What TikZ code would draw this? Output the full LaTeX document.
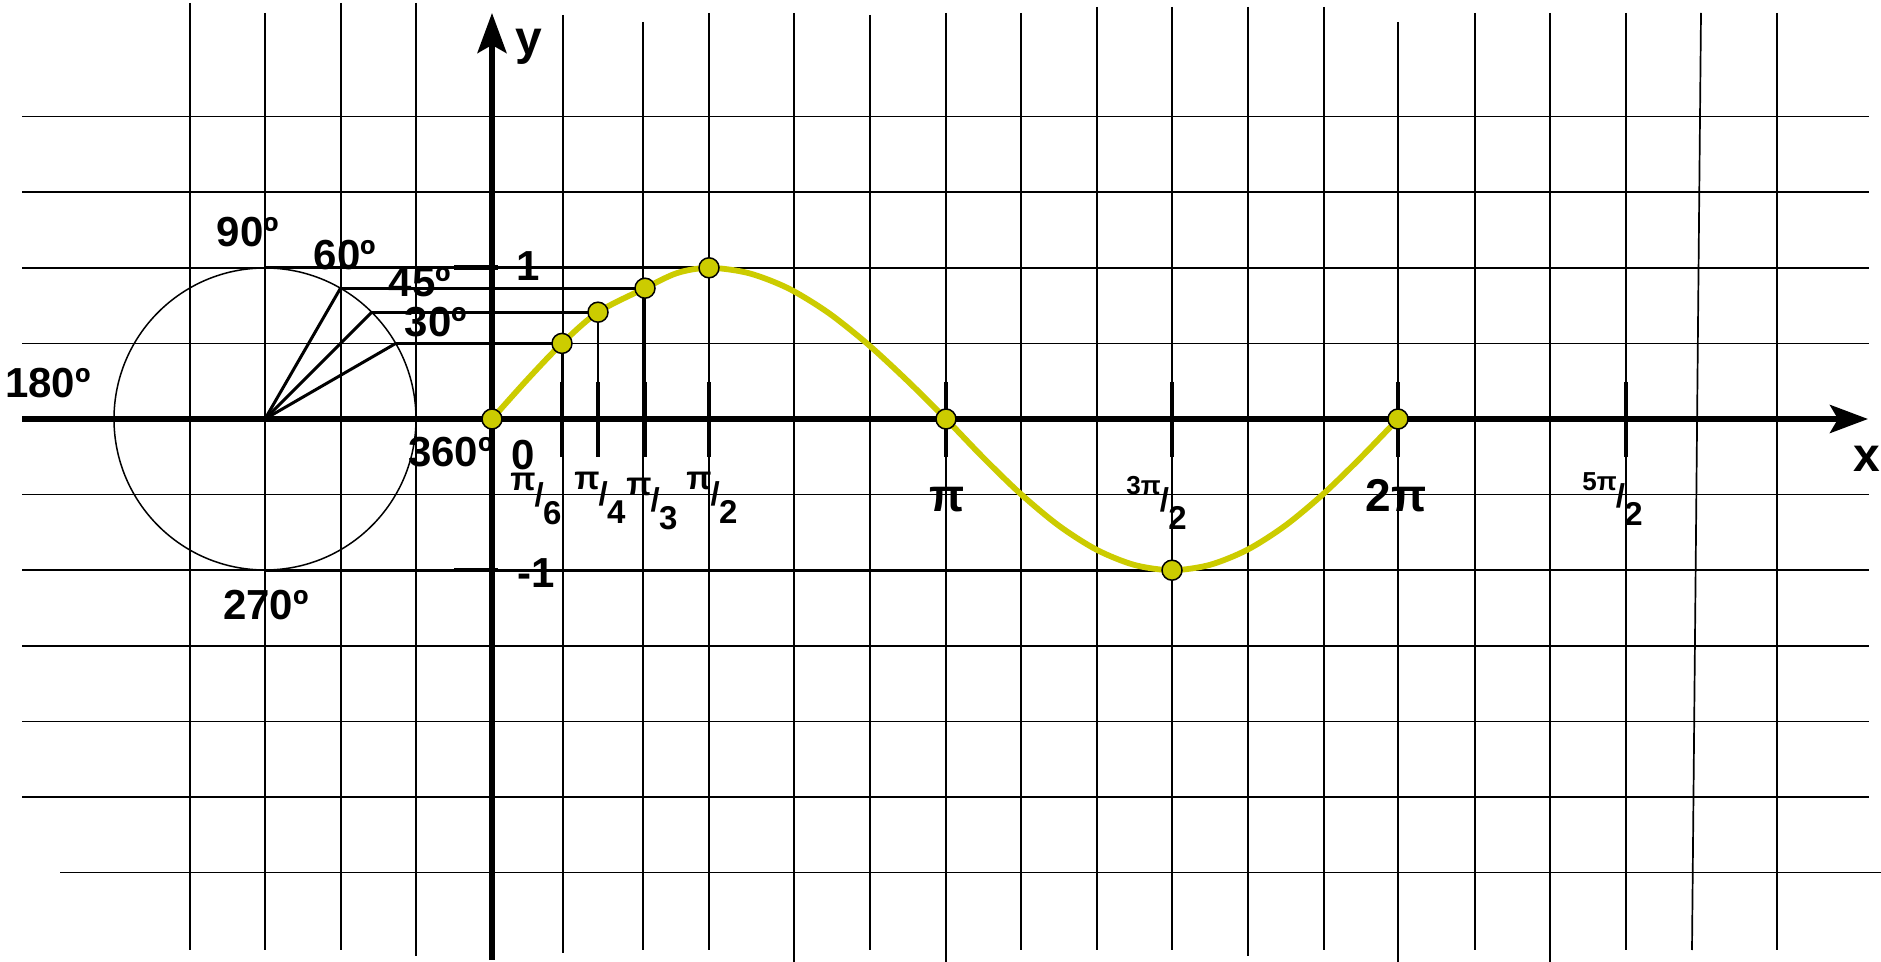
\documentclass[tikz,border=0pt]{standalone}
\usepackage{fontspec}
\setmainfont{Liberation Sans}
\usetikzlibrary{arrows.meta}
\definecolor{curvey}{RGB}{204,204,0}
\newcommand{\pfrac}[2]{\raisebox{8pt}{#1}\kern-0.03em/\kern-0.02em\raisebox{-9pt}{#2}}
\newcommand{\pfracs}[2]{\raisebox{8.5pt}{\fontsize{13}{13}\selectfont #1}\kern-0.03em/\kern-0.02em\raisebox{-9pt}{#2}}
\begin{document}
\begin{tikzpicture}[x=0.5pt,y=-0.5pt,
  grid/.style={line width=0.85pt,black},
  proj/.style={line width=1.4pt,black},
  radl/.style={line width=1.5pt,black},
  axis/.style={line width=2.75pt,black},
  tickm/.style={line width=2.3pt,black},
  curve/.style={line width=2.9pt,curvey},
  pt/.style={circle,fill=curvey,draw=black,line width=0.75pt,minimum size=10pt,inner sep=0pt},
  lbl/.style={font=\fontsize{21}{21}\selectfont\bfseries,inner sep=0pt,anchor=base},
  big/.style={font=\fontsize{23}{23}\selectfont\bfseries,inner sep=0pt,anchor=base},
  axl/.style={font=\fontsize{24}{24}\selectfont\bfseries,inner sep=0pt,anchor=base},
  frc/.style={font=\fontsize{16.5}{16.5}\selectfont\bfseries,inner sep=0pt,anchor=base west}]
\useasboundingbox (0,0) rectangle (1881,962);
\fill[white] (0,0) rectangle (1881,962);
% horizontal grid
\foreach \y in {116.6,192.2,267.8,343.4,494.6,570.2,645.8,721.4,797}
  \draw[grid] (22,\y) -- (1869,\y);
\draw[grid] (60,872.6) -- (1881,872.6);
% vertical grid
\foreach \x/\t/\b in {190/3/950,265/13/950,341/3/950,416/3/956,563/15/953,643/22/950,709/13/950,794/13/962,870/15/950,946/13/962,1021/13/950,1097/7/950,1172/7/950,1248/7/956,1324/7/950,1398/22/962,1475/13/950,1550/13/962,1626/13/950,1777/13/950}
  \draw[grid] (\x,\t) -- (\x,\b);
\draw[grid] (1701,13) -- (1692,950);
% unit circle
\node[circle,draw,line width=0.75pt,minimum size=151pt,inner sep=0pt] (uc) at (265,419) {};
\coordinate (o) at (265,419);
\coordinate (c90) at (265,267.8);
\coordinate (c60) at (340.5,288.2);
\coordinate (c45) at (371.8,312.2);
\coordinate (c30) at (395.8,343.4);
\coordinate (c270) at (265,570.2);
% curve points
\coordinate (p0) at (492,419);
\coordinate (p30) at (562,343.4);
\coordinate (p45) at (598,312.2);
\coordinate (p60) at (645,288.2);
\coordinate (p90) at (709,267.8);
\coordinate (p180) at (946,419);
\coordinate (p270) at (1172,570.2);
\coordinate (p360) at (1398,419);
% projection lines
\draw[line width=1.1pt] (c90) -- (c270);
\draw[proj] (c90) -- (p90);
\draw[proj] (c60) -- (p60);
\draw[proj] (c45) -- (p45);
\draw[proj] (c30) -- (p30);
\draw[proj] (c270) -- (p270);
\draw[proj] (p30) -- (p30 |- p0);
\draw[proj] (p45) -- (p45 |- p0);
\draw[proj] (p60) -- (p60 |- p0);
\draw[proj] (p90) -- (p90 |- p0);
\draw[radl] (o) -- (c30);
\draw[radl] (o) -- (c45);
\draw[radl] (o) -- (c60);
% axes
\coordinate (xs) at (22,419);
\coordinate (xe) at (1868,419);
\coordinate (ys) at (492,960);
\coordinate (ye) at (492,13);
\draw[axis,-{Stealth[length=19pt,width=14pt,inset=4pt]}] (xs) -- (xe);
\draw[axis,-{Stealth[length=20pt,width=14.5pt,inset=4pt]}] (ys) -- (ye);
% ticks
\draw[tickm] (454,267.8) -- (498,267.8);
\draw[tickm] (454,570.2) -- (498,570.2);
\foreach \x in {562,598,645,709,946,1172,1398,1626}
  \draw[tickm] (\x,382) -- (\x,457);
% sine curve
\draw[curve] plot[smooth,tension=0.5] coordinates {(492,419) (527,379.9) (562,343.4) (598,312.2) (645,288.2) (677,273.1) (709,267.8) (748.5,273.1) (788,288.2) (827.5,312.2) (867,343.5) (906.5,379.9) (946,419) (983.7,458.1) (1021.3,494.5) (1059,525.8) (1096.7,549.8) (1134.3,564.9) (1172,570.2) (1209.7,564.9) (1247.3,549.8) (1285,525.8) (1322.7,494.5) (1360.3,458.1) (1398,419)};
\foreach \p in {p0,p30,p45,p60,p90,p180,p270,p360}
  \node[pt] (n\p) at (\p) {};
% labels
\node[lbl] (l90) at (248,247) {90º};
\node[lbl] (l60) at (345,270) {60º};
\node[lbl] (l45) at (420,297) {45º};
\node[lbl] (l30) at (436,337) {30º};
\node[lbl] (l180) at (48,398) {180º};
\node[lbl] (l360) at (451,467) {360º};
\node[lbl] (l270) at (266,620) {270º};
\node[lbl] (l0) at (523,470) {0};
\node[lbl] (l1) at (528,281) {1};
\node[lbl] (lm1) at (536,588) {-1};
\node[big] (lpi) at (947,512) {π};
\node[big] (l2pi) at (1396,512) {2π};
\node[axl] (ly) at (529,55) {y};
\node[axl] (lx) at (1867,472) {x};
\node[frc] (f6) at (510,507) {\pfrac{π}{6}};
\node[frc] (f4) at (574,506) {\pfrac{π}{4}};
\node[frc] (f3) at (626,512) {\pfrac{π}{3}};
\node[frc] (f2) at (686,506) {\pfrac{π}{2}};
\node[frc] (f32) at (1126,512) {\pfracs{3π}{2}};
\node[frc] (f52) at (1582,508) {\pfracs{5π}{2}};
\end{tikzpicture}
\end{document}
